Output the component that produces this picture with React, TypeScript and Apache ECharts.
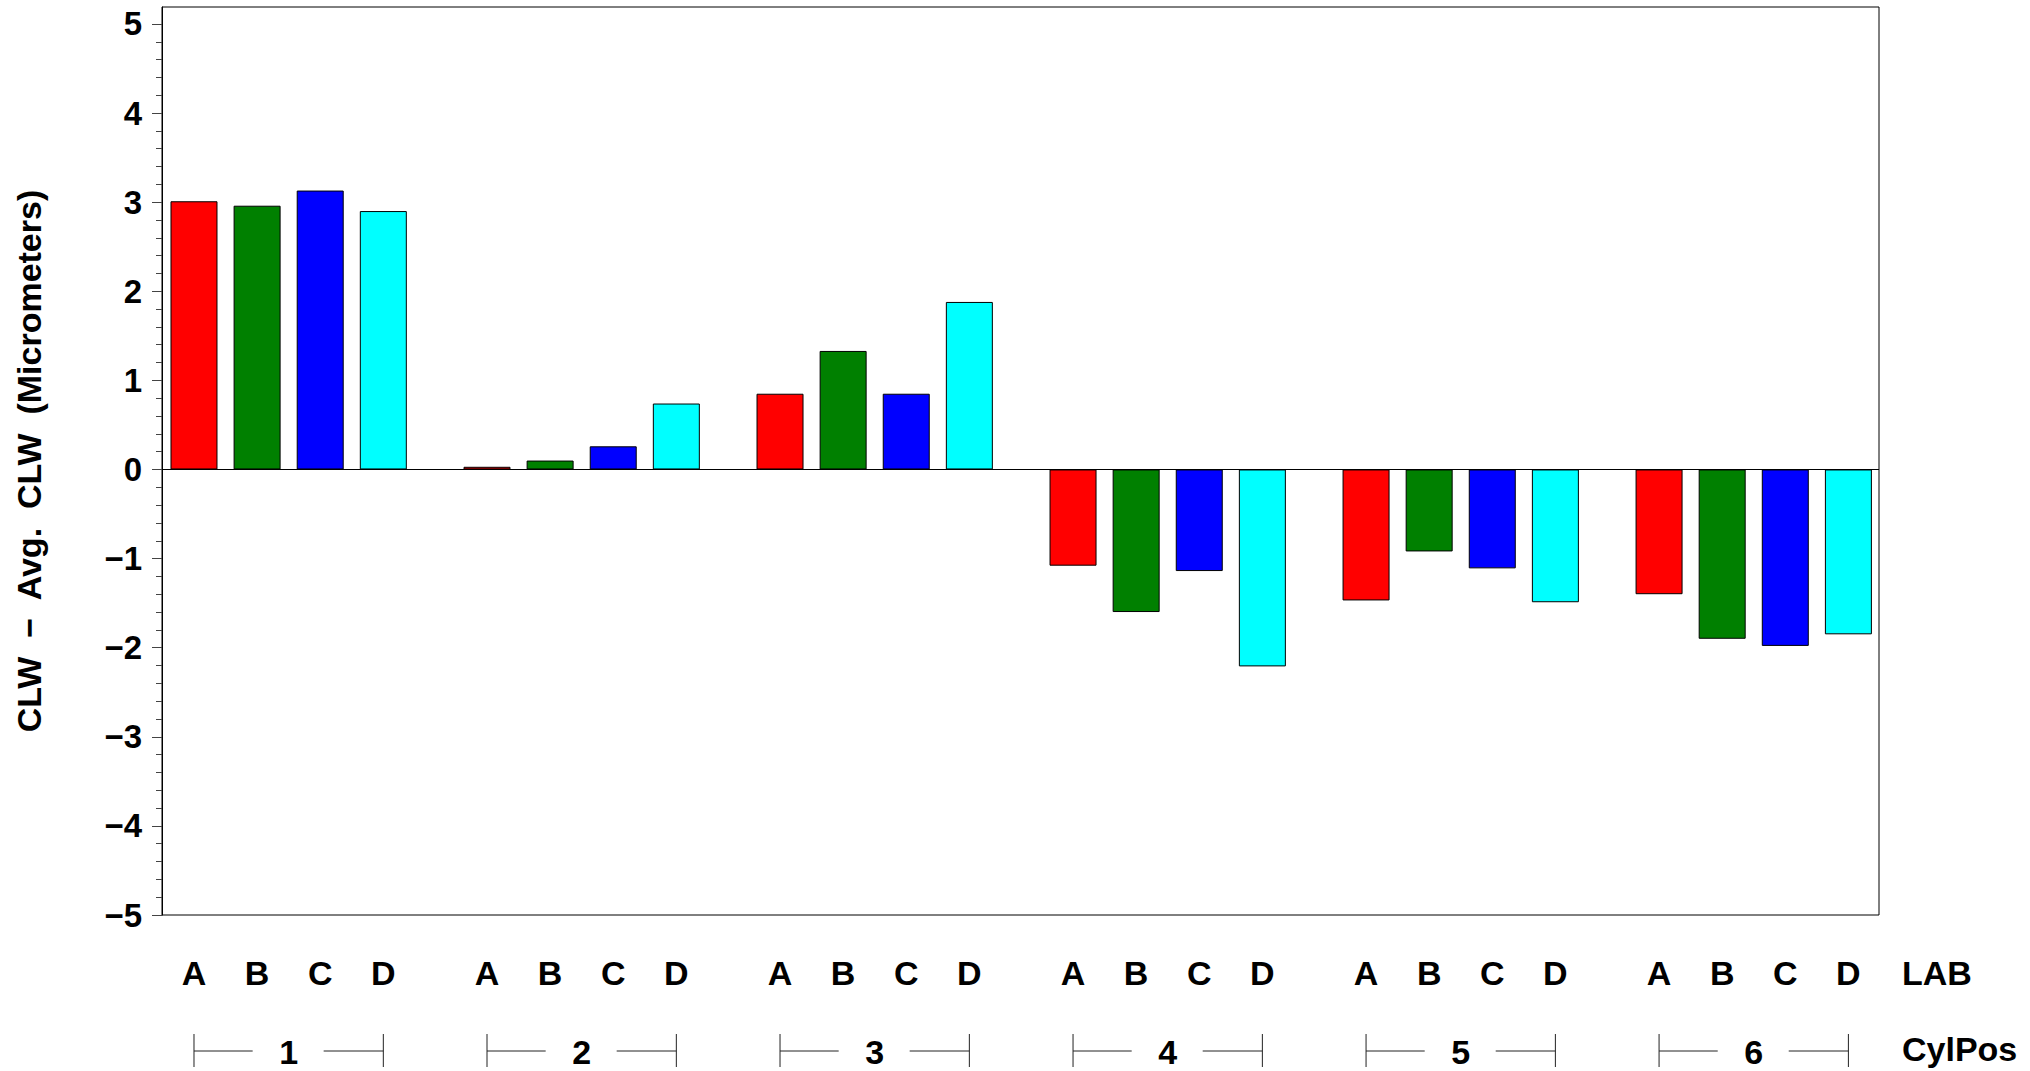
import React, { useEffect, useRef } from "react";
import * as echarts from "echarts";

// ---- data ----
const LABS = ["A", "B", "C", "D"];
const CYLPOS = ["1", "2", "3", "4", "5", "6"];
const LAB_COLORS = ["#FF0000", "#008000", "#0000FF", "#00FFFF"];

// CLW - Avg. CLW per CylPos (1..6), one array per LAB
const LAB_A = [3.01, 0.03, 0.85, -1.08, -1.47, -1.4];
const LAB_B = [2.96, 0.1, 1.33, -1.6, -0.92, -1.9];
const LAB_C = [3.13, 0.26, 0.85, -1.14, -1.11, -1.98];
const LAB_D = [2.9, 0.74, 1.88, -2.21, -1.49, -1.85];
const SERIES_VALUES = [LAB_A, LAB_B, LAB_C, LAB_D];

const Y_TICKS = [-5, -4, -3, -2, -1, 0, 1, 2, 3, 4, 5];
const Y_MIN = -5;
const Y_MAX = 5.19;

// ---- layout helpers ----
const GROUP_STEP = 4.643; // distance between groups, in bar steps
const X_MIN = -0.507;
const X_MAX = 26.7;
const barX = (g: number, l: number) => g * GROUP_STEP + l;

const FONT = "'Liberation Sans', Arial, Helvetica, sans-serif";

export default function App() {
  const ref = useRef<HTMLDivElement>(null);

  useEffect(() => {
    if (!ref.current) return;
    const chart = echarts.init(ref.current, undefined, { renderer: "svg" });

    const barData: any[] = [];
    const labelPositions: number[] = [];
    const labelText: Record<string, string> = {};
    CYLPOS.forEach((_, g) => {
      LABS.forEach((lab, l) => {
        const x = barX(g, l);
        barData.push({
          value: [x, SERIES_VALUES[l][g]],
          itemStyle: { color: LAB_COLORS[l] },
        });
        labelPositions.push(x);
        labelText[x.toFixed(3)] = lab;
      });
    });
    const groupCenters = CYLPOS.map((_, g) => (barX(g, 0) + barX(g, 3)) / 2);
    const groupText: Record<string, string> = {};
    groupCenters.forEach((c, g) => (groupText[c.toFixed(3)] = CYLPOS[g]));
    const brackets = CYLPOS.map((_, g) => [barX(g, 0), barX(g, 3)]);

    const minorTicks: number[] = [];
    for (let i = -25; i <= 25; i++) {
      if (i % 5 !== 0) minorTicks.push(i / 5);
    }

    const labelStyle = {
      fontFamily: FONT,
      fontWeight: "bold" as const,
      fontSize: 34,
      color: "#000",
    };

    chart.setOption({
      animation: false,
      backgroundColor: "#fff",
      grid: {
        left: 162,
        right: 151,
        top: 7,
        bottom: 156,
        show: true,
        borderColor: "#000",
        borderWidth: 1,
        backgroundColor: "transparent",
      },
      xAxis: [
        {
          type: "value",
          position: "bottom",
          min: X_MIN,
          max: X_MAX,
          axisLine: { show: false, onZero: false },
          axisTick: { show: false },
          splitLine: { show: false },
          axisLabel: {
            ...labelStyle,
            customValues: labelPositions,
            margin: 41,
            formatter: (v: number) => labelText[v.toFixed(3)] ?? "",
          },
        },
        {
          type: "value",
          position: "bottom",
          offset: 80,
          min: X_MIN,
          max: X_MAX,
          axisLine: { show: false, onZero: false },
          axisTick: { show: false },
          splitLine: { show: false },
          axisLabel: {
            ...labelStyle,
            customValues: groupCenters,
            margin: 40,
            formatter: (v: number) => groupText[v.toFixed(3)] ?? "",
          },
        },
      ],
      yAxis: [
        {
          type: "value",
          position: "left",
          min: Y_MIN,
          max: Y_MAX,
          axisLine: { show: true, onZero: false, lineStyle: { color: "#000", width: 1 } },
          axisTick: {
            show: true,
            customValues: Y_TICKS,
            length: 10,
            inside: false,
            lineStyle: { color: "#444", width: 1 },
          },
          splitLine: { show: false },
          axisLabel: {
            ...labelStyle,
            fontSize: 33,
            customValues: Y_TICKS,
            margin: 20,
            formatter: (v: number) =>
              v < 0 ? "\u2212" + Math.abs(v) : String(v),
          },
          name: "CLW  \u2212  Avg.  CLW  (Micrometers)",
          nameLocation: "middle",
          nameGap: 116,
          nameTextStyle: { ...labelStyle },
        },
        {
          type: "value",
          position: "left",
          min: Y_MIN,
          max: Y_MAX,
          axisLine: { show: false, onZero: false },
          axisTick: {
            show: true,
            customValues: minorTicks,
            length: 6,
            inside: false,
            lineStyle: { color: "#444", width: 1 },
          },
          splitLine: { show: false },
          axisLabel: { show: false },
        },
      ],
      graphic: [
        {
          type: "text",
          left: 1902,
          top: 973 - 17,
          style: { text: "LAB", font: `bold 34px ${FONT}`, fill: "#000" },
        },
        {
          type: "text",
          left: 1902,
          top: 1049 - 17,
          style: { text: "CylPos", font: `bold 34px ${FONT}`, fill: "#000" },
        },
      ],
      series: [
        {
          type: "bar",
          xAxisIndex: 0,
          yAxisIndex: 0,
          barWidth: 47,
          data: barData,
          itemStyle: { borderColor: "#000", borderWidth: 1 },
          markLine: {
            silent: true,
            symbol: ["none", "none"],
            label: { show: false },
            lineStyle: { color: "#000", width: 1, type: "solid" },
            data: [{ yAxis: 0 }],
          },
        },
        {
          type: "custom",
          xAxisIndex: 0,
          yAxisIndex: 0,
          clip: false,
          silent: true,
          data: brackets,
          encode: { x: [0, 1] },
          renderItem: (_params: any, api: any) => {
            const s = api.value(0);
            const e = api.value(1);
            const p0 = api.coord([s, Y_MIN]);
            const p1 = api.coord([e, Y_MIN]);
            const y = p0[1] + 136;
            const cx = (p0[0] + p1[0]) / 2;
            const st = { stroke: "#222", lineWidth: 1 };
            return {
              type: "group",
              children: [
                { type: "line", shape: { x1: p0[0], y1: y - 17, x2: p0[0], y2: y + 16 }, style: st },
                { type: "line", shape: { x1: p0[0], y1: y, x2: cx - 36, y2: y }, style: st },
                { type: "line", shape: { x1: cx + 35, y1: y, x2: p1[0], y2: y }, style: st },
                { type: "line", shape: { x1: p1[0], y1: y - 17, x2: p1[0], y2: y + 16 }, style: st },
              ],
            };
          },
        },
      ],
    });

    return () => chart.dispose();
  }, []);

  return (
    <div
      ref={ref}
      style={{
        position: "fixed",
        left: 0,
        top: 0,
        width: 2030,
        height: 1071,
        background: "#fff",
      }}
    />
  );
}
